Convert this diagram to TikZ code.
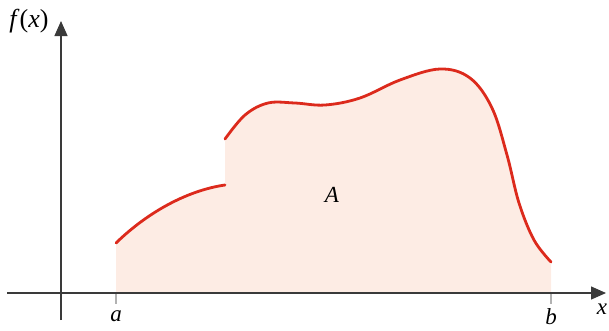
\documentclass[tikz,border=0pt]{standalone}
\usepackage{fontspec}
\newfontfamily\lblfont{Liberation Serif}
\usetikzlibrary{arrows.meta}
\definecolor{fillpink}{HTML}{FDECE4}
\definecolor{curvered}{HTML}{DC2A1C}
\definecolor{axisgray}{HTML}{3A3A3A}
\tikzset{
  axis/.style={draw=axisgray, line width=1.3pt, -{Triangle[length=15pt,width=13pt]}},
  curve/.style={draw=curvered, line width=2.8pt, line cap=round},
  tickline/.style={draw=gray!60, line width=1.2pt},
  lbl/.style={font=\lblfont\fontsize{23}{26}\selectfont\itshape, inner sep=0pt}
}
\begin{document}
\begin{tikzpicture}[x=1pt,y=-1pt]
\useasboundingbox (0,0) rectangle (609,330);
% fill
\fill[fillpink] (116,293) -- (116,243) .. controls (150,210) and (190,190) .. (225,185)
  -- plot[smooth, tension=0.6] coordinates {(225,139) (245,115) (268,103) (295,103) (325,105) (360,98) (400,80) (440,69) (470,78) (492,108) (507,155) (519,203) (534,240) (551,262)}
  -- (551,293) -- cycle;
% curves
\draw[curve] (116,243) .. controls (150,210) and (190,190) .. (225,185);
\draw[curve] plot[smooth, tension=0.6] coordinates {(225,139) (245,115) (268,103) (295,103) (325,105) (360,98) (400,80) (440,69) (470,78) (492,108) (507,155) (519,203) (534,240) (551,262)};
% ticks
\coordinate (ta) at (116,293);
\coordinate (tae) at (116,304);
\coordinate (tb) at (551,293);
\coordinate (tbe) at (551,304);
\draw[tickline] (ta) -- (tae);
\draw[tickline] (tb) -- (tbe);
% axes
\coordinate (xs) at (7,293);
\coordinate (xe) at (606,293);
\coordinate (ys) at (61,320);
\coordinate (ye) at (61,21);
\draw[axis] (xs) -- (xe);
\draw[axis] (ys) -- (ye);
% labels
\node[lbl, font=\lblfont\fontsize{26}{30}\selectfont\itshape] (fx) at (29,21) {f\/\textup{(}x\textup{)}};
\node[lbl] (xl) at (602,309) {x};
\node[lbl] (al) at (116,316) {a};
\node[lbl] (bl) at (551,317) {b};
\node[lbl] (A) at (332,195) {A};
\end{tikzpicture}
\end{document}
